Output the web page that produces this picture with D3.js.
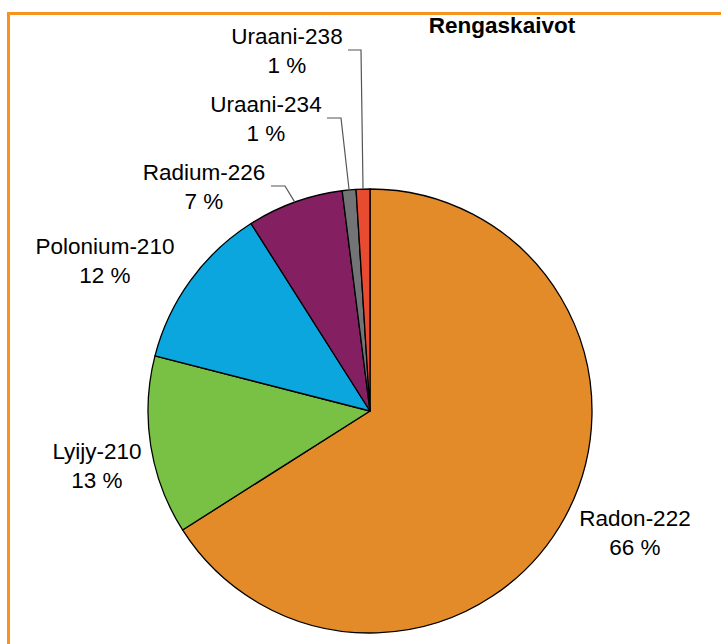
<!DOCTYPE html>
<html>
<head>
<meta charset="utf-8">
<script src="https://cdn.jsdelivr.net/npm/d3@7"></script>
<style>
  html, body { margin: 0; padding: 0; background: #ffffff; }
  svg { display: block; }
  text { font-family: "Liberation Sans", Arial, Helvetica, sans-serif; fill: #000; }
</style>
</head>
<body>
<script>
// Nuclide shares of the dose (percent), clockwise from 12 o'clock
const nuclides = ["Radon-222", "Lyijy-210", "Polonium-210", "Radium-226", "Uraani-234", "Uraani-238"];
const shares = [66, 13, 12, 7, 1, 1];
const sliceColors = ["#e38b29", "#78c145", "#0ba6de", "#841f62", "#727476", "#e94b30"];
const chartTitle = "Rengaskaivot";

const W = 721, H = 644;
const cx = 370, cy = 411, R = 222;

// Label anchors (centre of the two-line label, first baseline) and optional leader elbows
const labelLayout = [
  { x: 635, y: 526 },
  { x: 97, y: 459 },
  { x: 105, y: 254 },
  { x: 204, y: 180, leader: [[271, 186], [285, 186]] },
  { x: 266, y: 112, leader: [[327, 118], [341, 118]] },
  { x: 287, y: 44,  leader: [[348, 50], [361, 50]] }
];

const svg = d3.select("body").append("svg")
  .attr("width", W).attr("height", H);

svg.append("rect").attr("width", W).attr("height", H).attr("fill", "#fff");

// orange frame (its right and bottom edges fall outside the canvas)
svg.append("rect")
  .attr("x", 8.5).attr("y", 13.5)
  .attr("width", W + 20).attr("height", H + 20)
  .attr("fill", "none")
  .attr("stroke", "#f7941d")
  .attr("stroke-width", 3);

const data = nuclides.map((name, i) => ({ name, value: shares[i], color: sliceColors[i], layout: labelLayout[i] }));

const pie = d3.pie().value(d => d.value).sort(null);
const arcs = pie(data);
const arc = d3.arc().innerRadius(0).outerRadius(R);

const g = svg.append("g").attr("transform", `translate(${cx},${cy})`);

g.selectAll("path.slice")
  .data(arcs)
  .join("path")
  .attr("class", "slice")
  .attr("d", arc)
  .attr("fill", d => d.data.color)
  .attr("stroke", "#000")
  .attr("stroke-width", 1.3)
  .attr("stroke-linejoin", "round");

// leader lines for the narrow slices
arcs.forEach(a => {
  const L = a.data.layout.leader;
  if (!L) return;
  const mid = (a.startAngle + a.endAngle) / 2;
  const ex = cx + R * Math.sin(mid);
  const ey = cy - R * Math.cos(mid);
  const pts = [...L, [ex, ey]];
  svg.append("path")
    .attr("d", d3.line()(pts))
    .attr("fill", "none")
    .attr("stroke", "#555555")
    .attr("stroke-width", 1.2);
});

// category + percentage labels
const lbl = svg.selectAll("g.lbl")
  .data(arcs)
  .join("g")
  .attr("class", "lbl");

lbl.append("text")
  .attr("x", d => d.data.layout.x)
  .attr("y", d => d.data.layout.y)
  .attr("text-anchor", "middle")
  .attr("font-size", 22.5)
  .text(d => d.data.name);

lbl.append("text")
  .attr("x", d => d.data.layout.x)
  .attr("y", d => d.data.layout.y + 29)
  .attr("text-anchor", "middle")
  .attr("font-size", 22.5)
  .text(d => d3.format("d")(d.data.value) + " %");

svg.append("text")
  .attr("x", 502).attr("y", 33)
  .attr("text-anchor", "middle")
  .attr("font-size", 22.5)
  .attr("font-weight", "bold")
  .text(chartTitle);
</script>
</body>
</html>
